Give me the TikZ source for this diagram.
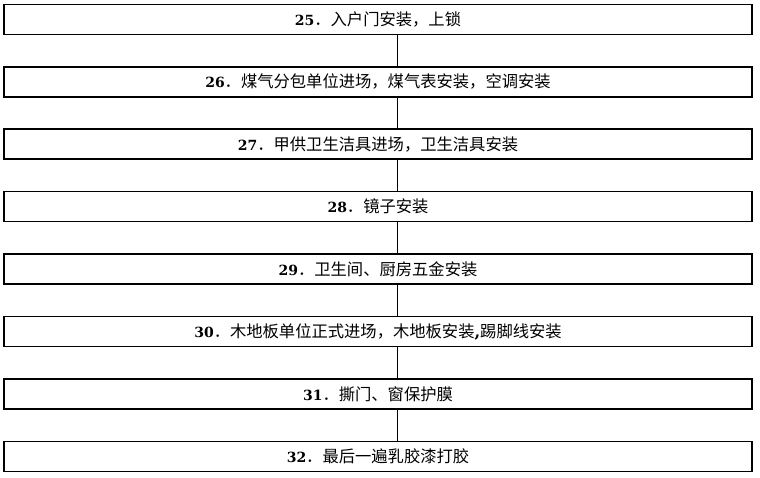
\documentclass[tikz,border=0pt]{standalone}
\usepackage{fontspec}
\newfontfamily\cjk{Noto Sans CJK SC}
\newfontfamily\numfont{DejaVu Serif}
\usepackage{tikz}

\tikzset{
	stepbox/.style={draw, line width=1.6pt, rectangle, minimum width=748.5pt, minimum height=30pt, inner sep=0pt, font=\cjk\fontsize{16.3}{18}\selectfont},
	link/.style={line width=1pt}
}
\newcommand\Num[1]{{\numfont\bfseries\fontsize{14}{18}\selectfont #1}．}

\begin{document}
\begin{tikzpicture}[y=-1pt,x=1pt]
	\useasboundingbox (0,0) rectangle (760,478);

	\node[stepbox] (s25) at (378,19.5) {\Num{25}入户门安装，上锁};
	\node[stepbox] (s26) at (378,81.9) {\Num{26}煤气分包单位进场，煤气表安装，空调安装};
	\node[stepbox] (s27) at (378,144.3) {\Num{27}甲供卫生洁具进场，卫生洁具安装};
	\node[stepbox] (s28) at (378,206.7) {\Num{28}镜子安装};
	\node[stepbox] (s29) at (378,269.1) {\Num{29}卫生间、厨房五金安装};
	\node[stepbox] (s30) at (378,331.5) {\Num{30}木地板单位正式进场，木地板安装{\numfont\bfseries,}踢脚线安装};
	\node[stepbox] (s31) at (378,393.9) {\Num{31}撕门、窗保护膜};
	\node[stepbox] (s32) at (378,456.3) {\Num{32}最后一遍乳胶漆打胶};

	\draw[link] ([xshift=19pt]s25.south) -- ([xshift=19pt]s26.north);
	\draw[link] ([xshift=19pt]s26.south) -- ([xshift=19pt]s27.north);
	\draw[link] ([xshift=19pt]s27.south) -- ([xshift=19pt]s28.north);
	\draw[link] ([xshift=19pt]s28.south) -- ([xshift=19pt]s29.north);
	\draw[link] ([xshift=19pt]s29.south) -- ([xshift=19pt]s30.north);
	\draw[link] ([xshift=19pt]s30.south) -- ([xshift=19pt]s31.north);
	\draw[link] ([xshift=19pt]s31.south) -- ([xshift=19pt]s32.north);
\end{tikzpicture}
\end{document}
